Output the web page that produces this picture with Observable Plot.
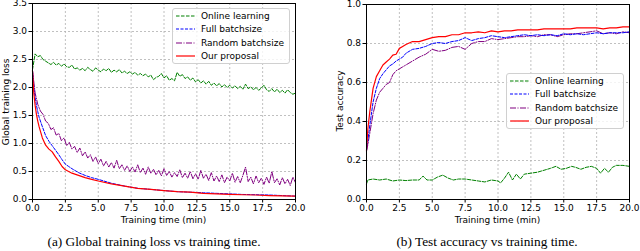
<!DOCTYPE html>
<html><head><meta charset="utf-8">
<script src="https://cdn.jsdelivr.net/npm/d3@7"></script>
<script src="https://cdn.jsdelivr.net/npm/@observablehq/plot@0.6"></script>
<style>
body{margin:0;background:#fff;}
#wrap{position:relative;width:640px;height:251px;overflow:hidden;font-family:"DejaVu Sans",sans-serif;color:#000;}
.plot{position:absolute;top:0;}
.lbl{position:absolute;font-size:9px;white-space:nowrap;transform:translate(-50%,-50%);}
.rot{transform:translate(-50%,-50%) rotate(-90deg);}
.cap{position:absolute;font-family:"Liberation Serif",serif;font-size:13.3px;white-space:nowrap;transform:translate(-50%,-50%);}
.leg{position:absolute;width:118px;height:56px;border:1px solid #d0d0d0;border-radius:3px;background:rgba(255,255,255,0.8);box-sizing:border-box;}
.row{position:absolute;left:3px;height:13px;display:flex;align-items:center;font-size:9px;white-space:nowrap;}
.row svg{margin-right:6px;}
</style></head><body><div id="wrap"></div>
<script>
// ---------- tick labels ----------
const timeTicks = [0, 2.5, 5, 7.5, 10, 12.5, 15, 17.5, 20];
const lossTicks = [0, 0.5, 1, 1.5, 2, 2.5, 3, 3.5];
const accTicks = [0, 0.2, 0.4, 0.6, 0.8, 1.0];
const seriesNames = ["Online learning", "Full batchsize", "Random batchsize", "Our proposal"];

// ---------- (a) training loss ----------
const lossTimeNoisy = Array.from({length: 101}, (_, i) => +(i * 0.2).toFixed(1));
const lossOnline = [2.32,2.60,2.55,2.57,2.50,2.47,2.44,2.41,2.45,2.40,2.43,2.38,2.42,2.37,2.36,2.40,2.33,2.35,2.31,2.34,
  2.30,2.36,2.32,2.29,2.35,2.31,2.28,2.33,2.30,2.34,2.27,2.31,2.28,2.32,2.26,2.29,2.25,2.28,2.24,2.27,
  2.22,2.25,2.21,2.24,2.19,2.22,2.14,2.18,2.20,2.25,2.17,2.21,2.13,2.16,2.12,2.27,2.20,2.23,2.16,2.19,
  2.13,2.17,2.10,2.14,2.08,2.12,2.06,2.11,2.04,2.08,2.03,2.07,2.01,2.05,2.00,2.04,1.99,2.03,1.98,2.02,
  1.97,2.06,1.98,2.01,1.96,2.00,1.95,1.99,2.04,1.96,1.93,1.98,1.92,1.97,1.91,1.95,1.90,1.96,1.91,1.88,1.90];
const lossRandom = [2.30,1.90,1.70,1.58,1.52,1.40,1.36,1.25,1.28,1.15,1.18,1.05,1.10,0.96,1.02,0.90,0.95,0.84,0.92,0.78,
  0.85,0.74,0.80,0.68,0.76,0.64,0.72,0.60,0.68,0.58,0.66,0.56,0.70,0.55,0.62,0.52,0.60,0.50,0.58,0.49,
  0.62,0.48,0.56,0.45,0.58,0.47,0.54,0.44,0.52,0.42,0.55,0.43,0.50,0.40,0.48,0.41,0.53,0.39,0.47,0.38,
  0.50,0.37,0.46,0.36,0.52,0.38,0.45,0.34,0.48,0.33,0.42,0.32,0.44,0.30,0.40,0.33,0.47,0.31,0.41,0.30,
  0.43,0.58,0.32,0.40,0.28,0.42,0.30,0.38,0.27,0.40,0.29,0.50,0.30,0.37,0.26,0.39,0.28,0.36,0.25,0.40,0.30];
const lossTimeSmooth = [0,0.1,0.2,0.3,0.4,0.5,0.75,1,1.25,1.5,1.75,2,2.25,2.5,2.75,3,3.5,4,4.5,5,6,7,8,9,10,11,12,13,14,15,16,17,18,19,20];
const lossFull = [2.30,2.00,1.82,1.68,1.57,1.47,1.30,1.14,1.04,0.96,0.88,0.80,0.71,0.63,0.59,0.55,0.48,0.43,0.39,0.36,0.29,0.24,0.20,0.18,0.16,0.14,0.13,0.12,0.11,0.10,0.09,0.085,0.08,0.07,0.06];
const lossOurs = [2.30,1.90,1.68,1.52,1.40,1.30,1.10,0.97,0.90,0.85,0.76,0.68,0.59,0.53,0.50,0.47,0.43,0.39,0.36,0.33,0.28,0.24,0.20,0.18,0.16,0.14,0.13,0.11,0.10,0.09,0.085,0.08,0.07,0.065,0.06];

// ---------- (b) test accuracy ----------
const accTime = [0,0.1,0.25,0.5,0.75,1.0,1.25,1.5,1.75,2.0,2.25,2.5,2.75,3.0,3.5,4.0,4.5,5.0,5.5,6.0,6.5,7.0,7.5,8.0,8.5,9.0,9.5,10.0,10.5,11.0,11.5,12.0,12.5,13.0,13.5,14.0,14.5,15.0,15.5,16.0,16.5,17.0,17.5,18.0,18.5,19.0,19.5,20.0];
const accOurs = [0.25,0.36,0.45,0.57,0.63,0.66,0.69,0.705,0.72,0.74,0.745,0.775,0.785,0.795,0.81,0.81,0.82,0.83,0.835,0.835,0.845,0.845,0.855,0.855,0.86,0.855,0.865,0.86,0.865,0.865,0.87,0.87,0.87,0.87,0.875,0.875,0.875,0.875,0.875,0.88,0.88,0.88,0.88,0.875,0.88,0.88,0.885,0.885];
const accFull = [0.25,0.30,0.38,0.50,0.57,0.62,0.645,0.665,0.685,0.695,0.71,0.72,0.73,0.75,0.77,0.775,0.785,0.80,0.805,0.80,0.81,0.815,0.83,0.815,0.825,0.83,0.84,0.835,0.83,0.835,0.84,0.845,0.84,0.845,0.84,0.845,0.84,0.85,0.845,0.85,0.845,0.85,0.855,0.85,0.855,0.855,0.855,0.86];
const accRandom = [0.25,0.28,0.34,0.44,0.51,0.55,0.57,0.59,0.60,0.64,0.66,0.67,0.68,0.69,0.71,0.73,0.745,0.77,0.76,0.765,0.78,0.785,0.77,0.80,0.81,0.81,0.825,0.82,0.825,0.83,0.835,0.835,0.84,0.835,0.845,0.845,0.835,0.845,0.85,0.85,0.855,0.86,0.865,0.85,0.855,0.85,0.86,0.855];
const accOnlineTime = [0,0.1,0.5,1,1.5,2,2.5,3,3.5,4,4.3,4.6,5,5.4,5.8,6.2,6.6,7,7.5,8,8.5,9,9.5,10,10.2,10.5,10.8,11.1,11.4,11.7,12,12.5,13,13.5,14,14.4,14.8,15.2,15.6,15.9,16.3,16.7,17.1,17.5,17.8,18.1,18.4,18.7,19,19.5,20];
const accOnline = [0.08,0.10,0.105,0.10,0.105,0.095,0.10,0.097,0.10,0.10,0.12,0.10,0.10,0.115,0.125,0.11,0.10,0.105,0.105,0.10,0.095,0.09,0.10,0.095,0.085,0.11,0.14,0.10,0.13,0.105,0.13,0.135,0.14,0.15,0.16,0.17,0.155,0.16,0.17,0.165,0.155,0.165,0.17,0.16,0.135,0.16,0.14,0.165,0.175,0.175,0.17];

// ---------- styles ----------
const colors = ["#008000", "#0000ff", "#800080", "#ff0000"];
const dashes = ["3.5,1.5", "3,1.5", "6,1.5,1,1.5", null];

const zip = (ts, vs) => ts.map((t, i) => ({t, v: vs[i]}));
const fmt = d => d.toFixed(1);
const gridStyle = {stroke: "#b0b0b0", strokeOpacity: 1, strokeWidth: 0.8, strokeDasharray: "2,2"};

function panel({yDomain, yTicks, marginLeft, marginRight, marginTop, series}) {
  return Plot.plot({
    width: 320, height: 228, marginLeft, marginRight, marginTop, marginBottom: 29,
    style: {fontFamily: "DejaVu Sans", fontSize: "9px", color: "black", background: "transparent"},
    x: {domain: [0, 20]},
    y: {domain: yDomain},
    marks: [
      Plot.gridX(timeTicks, gridStyle),
      Plot.gridY(yTicks, gridStyle),
      ...series.map(s => Plot.line(s.data, {x: "t", y: "v", stroke: colors[s.k], strokeWidth: s.k === 3 ? 1.2 : 1, strokeDasharray: dashes[s.k] || undefined})),
      Plot.axisX(timeTicks, {tickFormat: fmt, tickSize: 3.5, tickPadding: 2, label: null, fontSize: 9}),
      Plot.axisY(yTicks, {tickFormat: fmt, tickSize: 3.5, tickPadding: 2, label: null, fontSize: 9}),
      Plot.frame({stroke: "black", strokeWidth: 1})
    ]
  });
}

const wrap = document.getElementById("wrap");

const left = panel({
  yDomain: [0, 3.5], yTicks: lossTicks, marginLeft: 32, marginRight: 25, marginTop: 3,
  series: [
    {k: 0, data: zip(lossTimeNoisy, lossOnline)},
    {k: 2, data: zip(lossTimeNoisy, lossRandom)},
    {k: 1, data: zip(lossTimeSmooth, lossFull)},
    {k: 3, data: zip(lossTimeSmooth, lossOurs)}
  ]
});
left.classList.add("plot"); left.style.left = "0px";
wrap.appendChild(left);

const right = panel({
  yDomain: [0, 1], yTicks: accTicks, marginLeft: 46, marginRight: 11, marginTop: 4,
  series: [
    {k: 0, data: zip(accOnlineTime, accOnline)},
    {k: 2, data: zip(accTime, accRandom)},
    {k: 1, data: zip(accTime, accFull)},
    {k: 3, data: zip(accTime, accOurs)}
  ]
});
right.classList.add("plot"); right.style.left = "320px";
wrap.appendChild(right);

function addDiv(cls, text, x, y) {
  const d = document.createElement("div");
  d.className = cls; d.textContent = text;
  d.style.left = x + "px"; d.style.top = y + "px";
  wrap.appendChild(d);
}
addDiv("lbl", "Training time (min)", 163.5, 220);
addDiv("lbl", "Training time (min)", 497.5, 220);
addDiv("lbl rot", "Global training loss", 5.5, 102);
addDiv("lbl rot", "Test accuracy", 340, 101);
addDiv("cap", "(a) Global training loss vs training time.", 154, 242);
addDiv("cap", "(b) Test accuracy vs training time.", 487, 242);

function legend(x, y) {
  const box = document.createElement("div");
  box.className = "leg"; box.style.left = x + "px"; box.style.top = y + "px";
  seriesNames.forEach((name, k) => {
    const r = document.createElement("div");
    r.className = "row"; r.style.top = (0.5 + k * 13.4) + "px";
    const dash = dashes[k] ? `stroke-dasharray="${dashes[k]}"` : "";
    r.innerHTML = `<svg width="19" height="6"><line x1="0" y1="3" x2="19" y2="3" stroke="${colors[k]}" stroke-width="1.2" ${dash}/></svg>`;
    const s = document.createElement("span"); s.textContent = name; r.appendChild(s);
    box.appendChild(r);
  });
  wrap.appendChild(box);
}
legend(172, 8);
legend(506, 73);
</script></body></html>
